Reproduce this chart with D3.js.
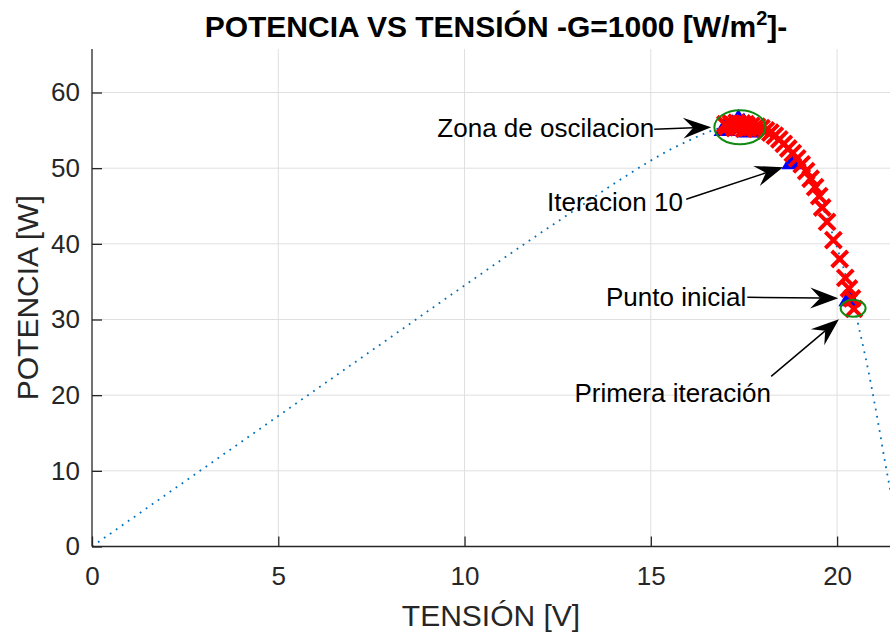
<!DOCTYPE html>
<html>
<head>
<meta charset="utf-8">
<script src="https://cdn.jsdelivr.net/npm/d3@7"></script>
<style>
body { margin: 0; background: #fff; }
text { font-family: "Liberation Sans", Arial, Helvetica, sans-serif; }
</style>
</head>
<body>
<svg width="890" height="633"></svg>
<script>
// P-V curve (dotted)
const curveV = [0, 2, 4, 6, 8, 10, 12, 13, 14, 15, 15.5, 16, 16.5, 17, 17.3, 17.6, 18, 18.4, 18.8, 19.2, 19.6, 20, 20.3, 20.6, 20.9, 21.1, 21.3, 21.45];
const curveP = [0, 6.9, 13.8, 20.7, 27.6, 34.5, 41.3, 44.6, 47.9, 51.0, 52.4, 53.6, 54.7, 55.5, 55.8, 55.8, 55.3, 54.0, 51.9, 49.3, 45.0, 39.5, 34.6, 28.6, 21.7, 16.4, 10.8, 6.9];

// red X markers (iterations)
const crossV = [17.05, 17.15, 17.25, 17.3, 17.4, 17.45, 17.5, 17.55, 17.6, 17.2, 17.35, 17.7, 17.8, 17.0,
  17.85, 17.97, 18.09, 18.21, 18.33, 18.45, 18.57, 18.69, 18.81, 18.93, 19.05, 19.17, 19.29, 19.41, 19.52,
  19.6, 19.73, 19.9, 20.07, 20.22, 20.32, 20.4, 20.45];
const crossP = [55.5, 55.9, 55.3, 56.0, 55.6, 55.9, 55.2, 55.8, 55.5, 55.7, 55.4, 55.6, 55.3, 55.8,
  55.5, 55.3, 55.0, 54.7, 54.3, 53.8, 53.2, 52.6, 52.0, 51.3, 50.5, 49.6, 48.6, 47.5, 46.3,
  44.8, 42.9, 40.5, 38.0, 35.5, 34.1, 32.8, 31.4];

// blue triangle markers
const triV = [16.98, 17.35, 17.64, 17.2, 17.5, 18.8, 20.33];
const triP = [55.5, 56.6, 55.3, 55.9, 56.1, 51.1, 33.0];

const xTicks = [0, 5, 10, 15, 20];
const yTicks = [0, 10, 20, 30, 40, 50, 60];

// green ellipses: centre V, P and radii in data units
const ellipses = [
  {v: 17.39, p: 55.4, rv: 0.684, rp: 2.25},
  {v: 20.43, p: 31.48, rv: 0.335, rp: 1.12}
];

// annotations: text anchor + arrow from/to (data units)
const notes = [
  {text: "Zona de oscilacion", anchor: "end", tv: 15.09, tp: 54.1, from: [15.09, 55.16], to: [16.62, 55.42]},
  {text: "Iteracion 10", anchor: "end", tv: 15.86, tp: 44.3, from: [15.95, 45.9], to: [18.55, 50.13]},
  {text: "Punto inicial", anchor: "end", tv: 17.56, tp: 31.75, from: [17.59, 32.94], to: [20.03, 32.8]},
  {text: "Primera iteración", anchor: "start", tv: 12.95, tp: 19.05, from: [18.23, 22.49], to: [20.05, 30.03]}
];

(function () {
const svg = d3.select('svg');
const mLeft = 92, mRight = 890, mTop = 49, mBottom = 546.5;

const x = d3.scaleLinear().domain([0, 21.42]).range([mLeft, mRight]);
const y = d3.scaleLinear().domain([0, 65.75]).range([mBottom, mTop]);

const axisColor = '#262626';

// grid
svg.append('g').selectAll('line').data(xTicks.slice(1)).enter().append('line')
    .attr('x1', d => x(d)).attr('x2', d => x(d))
    .attr('y1', mTop).attr('y2', mBottom)
    .attr('stroke', '#dfdfdf').attr('stroke-width', 1);
svg.append('g').selectAll('line').data(yTicks.slice(1)).enter().append('line')
    .attr('x1', mLeft).attr('x2', mRight)
    .attr('y1', d => y(d)).attr('y2', d => y(d))
    .attr('stroke', '#dfdfdf').attr('stroke-width', 1);

svg.append('clipPath').attr('id', 'plot')
  .append('rect').attr('x', mLeft).attr('y', mTop).attr('width', mRight - mLeft).attr('height', mBottom - mTop);

const plot = svg.append('g').attr('clip-path', 'url(#plot)');

// dotted P-V curve
const line = d3.line().x(d => x(d[0])).y(d => y(d[1])).curve(d3.curveMonotoneX);
plot.append('path')
    .datum(curveV.map((v, i) => [v, curveP[i]]))
    .attr('d', line)
    .attr('fill', 'none')
    .attr('stroke', '#0072BD')
    .attr('stroke-width', 1.8)
    .attr('stroke-dasharray', '1.8 5.5');

// triangles
const tw = 22, th = 19;
plot.selectAll('path.tri').data(triV.map((v, i) => [v, triP[i]])).enter().append('path')
    .attr('class', 'tri')
    .attr('transform', d => `translate(${x(d[0])},${y(d[1])})`)
    .attr('d', `M0,${-th / 2}L${tw / 2},${th / 2}L${-tw / 2},${th / 2}Z`)
    .attr('fill', '#0000ff');

// crosses
const s = 8;
plot.selectAll('path.cross').data(crossV.map((v, i) => [v, crossP[i]])).enter().append('path')
    .attr('class', 'cross')
    .attr('transform', d => `translate(${x(d[0])},${y(d[1])})`)
    .attr('d', `M${-s},${-s}L${s},${s}M${-s},${s}L${s},${-s}`)
    .attr('stroke', '#ff0000')
    .attr('stroke-width', 4)
    .attr('fill', 'none');

// ellipses
plot.selectAll('ellipse').data(ellipses).enter().append('ellipse')
    .attr('cx', d => x(d.v)).attr('cy', d => y(d.p))
    .attr('rx', d => x(d.v + d.rv) - x(d.v))
    .attr('ry', d => y(d.p) - y(d.p + d.rp))
    .attr('fill', 'none')
    .attr('stroke', '#118a11')
    .attr('stroke-width', 2);

// axes
const xAxis = d3.axisBottom(x).tickValues(xTicks).tickSize(-10).tickPadding(20).tickFormat(d3.format('d'));
const yAxis = d3.axisLeft(y).tickValues(yTicks).tickSize(-10).tickPadding(12).tickFormat(d3.format('d'));

const gx = svg.append('g').attr('transform', `translate(0,${mBottom})`).call(xAxis);
const gy = svg.append('g').attr('transform', `translate(${mLeft},0)`).call(yAxis);
[gx, gy].forEach(g => {
  g.select('.domain').attr('stroke', axisColor).attr('stroke-width', 1.3);
  g.selectAll('.tick line').attr('stroke', axisColor).attr('stroke-width', 1.3);
  g.selectAll('.tick text').attr('fill', axisColor).style('font-size', '26px')
    .style('font-family', '"Liberation Sans", Arial, sans-serif');
});
gx.select('.domain').attr('d', `M${mLeft},0H${mRight}`);
gy.select('.domain').attr('d', `M0,${mBottom}V${mTop}`);

// labels
svg.append('text')
    .attr('x', (mLeft + mRight) / 2).attr('y', 626)
    .attr('text-anchor', 'middle')
    .attr('fill', axisColor)
    .style('font-size', '30px')
    .text('TENSIÓN [V]');

svg.append('text')
    .attr('transform', `translate(38,${(mTop + mBottom) / 2}) rotate(-90)`)
    .attr('text-anchor', 'middle')
    .attr('fill', axisColor)
    .style('font-size', '30px')
    .text('POTENCIA [W]');

const title = svg.append('text')
    .attr('x', 496).attr('y', 37)
    .attr('text-anchor', 'middle')
    .attr('fill', '#000')
    .style('font-size', '30px')
    .style('font-weight', 'bold');
title.append('tspan').text('POTENCIA VS TENSIÓN -G=1000 [W/m');
title.append('tspan').attr('dy', -12).style('font-size', '20px').text('2');
title.append('tspan').attr('dy', 12).text(']-');

// annotations
const ann = svg.append('g');
notes.forEach(n => {
  ann.append('text')
      .attr('x', x(n.tv)).attr('y', y(n.tp))
      .attr('text-anchor', n.anchor)
      .attr('fill', '#000')
      .style('font-size', '26px')
      .text(n.text);

  const x0 = x(n.from[0]), y0 = y(n.from[1]);
  const x1 = x(n.to[0]), y1 = y(n.to[1]);
  const a = Math.atan2(y1 - y0, x1 - x0);
  const L = 28, W = 21, notch = 18;
  ann.append('line')
      .attr('x1', x0).attr('y1', y0)
      .attr('x2', x1 - notch * Math.cos(a))
      .attr('y2', y1 - notch * Math.sin(a))
      .attr('stroke', '#000').attr('stroke-width', 1.5);
  ann.append('path')
      .attr('transform', `translate(${x1},${y1}) rotate(${a * 180 / Math.PI})`)
      .attr('d', `M0,0L${-L},${-W / 2}L${-notch},0L${-L},${W / 2}Z`)
      .attr('fill', '#000');
});
}());
</script>
</body>
</html>
